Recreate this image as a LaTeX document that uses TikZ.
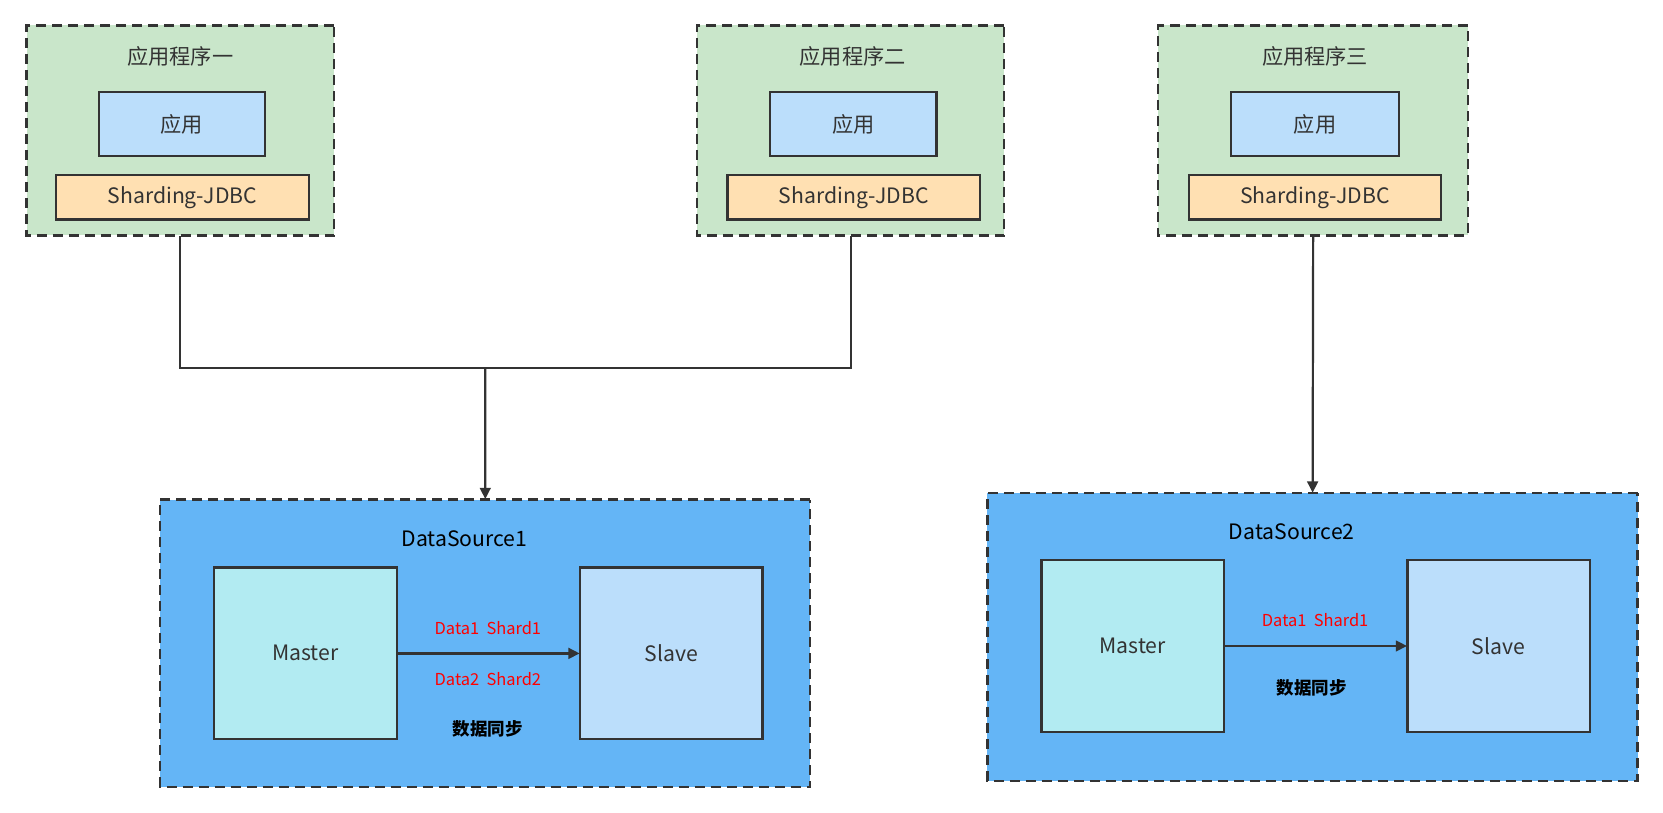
\documentclass[tikz,border=0pt]{standalone}
\usepackage{fontspec}
\setmainfont{Noto Sans CJK SC}
\usetikzlibrary{arrows.meta}
\definecolor{appgreen}{HTML}{C9E6CA}
\definecolor{appblue}{HTML}{BBDEFB}
\definecolor{jdbcorange}{HTML}{FFE0B2}
\definecolor{dsblue}{HTML}{64B5F6}
\definecolor{mastercyan}{HTML}{B2EBF2}
\definecolor{linegray}{HTML}{333333}
\begin{document}
\begin{tikzpicture}[x=1pt, y=-1pt, scale = 0.5303,
    every node/.style={scale = 0.5303, font=\fontsize{20}{24}\selectfont, text=linegray},
    groupbox/.style={draw=linegray, line width=1.1pt, dash pattern=on 5pt off 3pt},
    innerbox/.style={draw=linegray, line width=1.1pt, fill=#1},
    link/.style={draw=linegray, line width=1.1pt},
    tip/.style={-{Triangle[length=5.6pt, width=5.4pt]}}]

    \useasboundingbox (0, 0) rectangle (1568, 766);

    % application groups
    \node (app1) at (170, 123) [groupbox, fill = appgreen, minimum width = 290pt, minimum height = 198pt] {};
    \node (app2) at (802, 123) [groupbox, fill = appgreen, minimum width = 290pt, minimum height = 198pt] {};
    \node (app3) at (1238, 123) [groupbox, fill = appgreen, minimum width = 292pt, minimum height = 198pt] {};

    \node (t1) at (170, 53) {应用程序一};
    \node (t2) at (804, 53) {应用程序二};
    \node (t3) at (1240, 53) {应用程序三};

    \node (use1) at (171.5, 117) [innerbox = appblue, minimum width = 157pt, minimum height = 60pt] {应用};
    \node (use2) at (804.5, 117) [innerbox = appblue, minimum width = 157pt, minimum height = 60pt] {应用};
    \node (use3) at (1240, 117) [innerbox = appblue, minimum width = 158pt, minimum height = 60pt] {应用};

    \node (jdbc1) at (172, 186) [innerbox = jdbcorange, minimum width = 238pt, minimum height = 42pt] {Sharding-JDBC};
    \node (jdbc2) at (805, 186) [innerbox = jdbcorange, minimum width = 238pt, minimum height = 42pt] {Sharding-JDBC};
    \node (jdbc3) at (1240, 186) [innerbox = jdbcorange, minimum width = 238pt, minimum height = 42pt] {Sharding-JDBC};

    % data sources
    \node (ds1) at (457.5, 606.5) [groupbox, fill = dsblue, minimum width = 613pt, minimum height = 271pt] {};
    \node (ds2) at (1237.5, 600.5) [groupbox, fill = dsblue, minimum width = 613pt, minimum height = 271pt] {};

    \node (dst1) at (438, 508) [text = black] {DataSource1};
    \node (dst2) at (1218, 501) [text = black] {DataSource2};

    \node (m1) at (288, 616) [innerbox = mastercyan, minimum width = 172pt, minimum height = 162pt] {Master};
    \node (s1) at (633, 616) [innerbox = appblue, minimum width = 172pt, minimum height = 162pt] {Slave};
    \node (m2) at (1068, 609) [innerbox = mastercyan, minimum width = 172pt, minimum height = 162pt] {Master};
    \node (s2) at (1413, 609) [innerbox = appblue, minimum width = 172pt, minimum height = 162pt] {Slave};

    \node (d1a) at (460, 592) [text = red, font = \fontsize{15.5}{18}\selectfont] {Data1\ \ Shard1};
    \node (d1b) at (460, 640) [text = red, font = \fontsize{15.5}{18}\selectfont] {Data2\ \ Shard2};
    \node (sync1) at (460, 687) [text = black, font = \fontsize{16.5}{19}\selectfont\bfseries] {数据同步};
    \node (d2a) at (1240, 585) [text = red, font = \fontsize{15.5}{18}\selectfont] {Data1\ \ Shard1};
    \node (sync2) at (1237, 649) [text = black, font = \fontsize{16.5}{19}\selectfont\bfseries] {数据同步};

    % connectors
    \coordinate (bus) at (802, 347);
    \coordinate (hub) at (ds1.north |- bus);
    \draw [link] (app1.south) |- (bus) -- (app2.south);
    \draw [link, tip] (hub) -- (ds1.north);
    \draw [link, tip] (app3.south) -- (ds2.north);
    \draw [link, tip] (m1.east) -- (s1.west);
    \draw [link, tip] (m2.east) -- (s2.west);

\end{tikzpicture}
\end{document}
